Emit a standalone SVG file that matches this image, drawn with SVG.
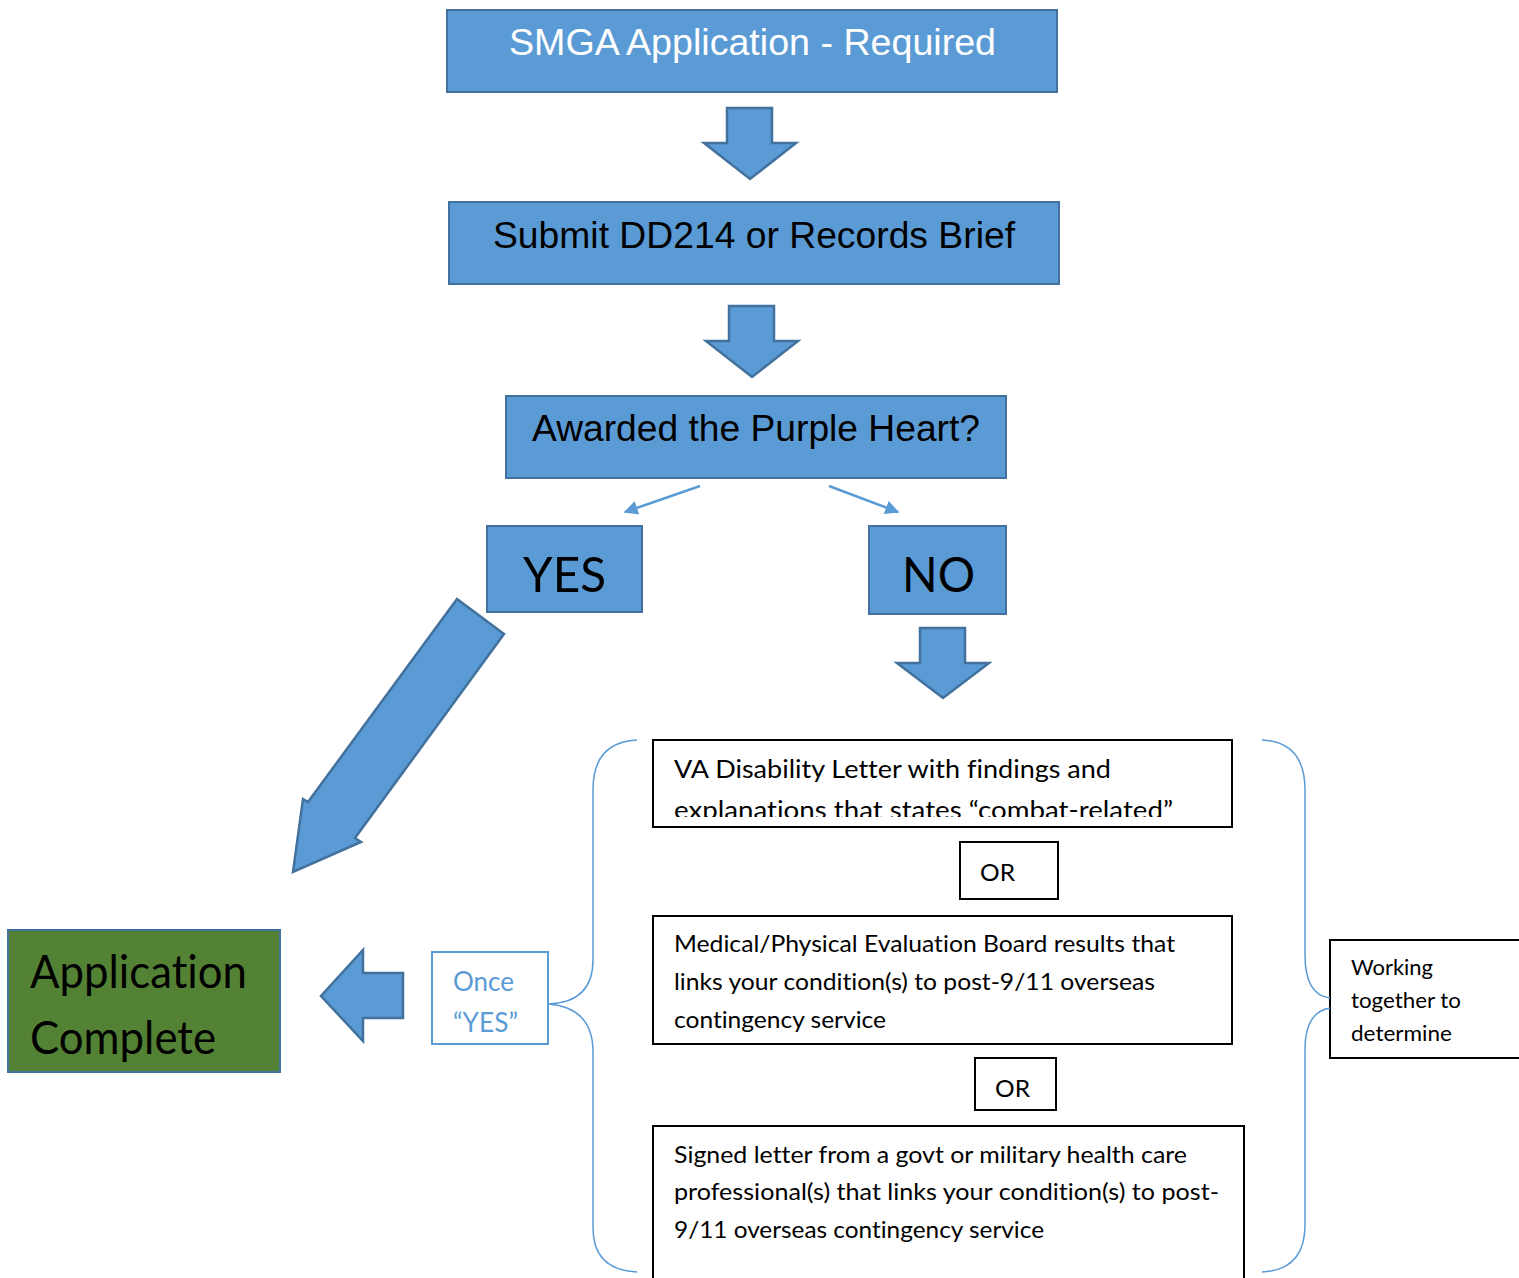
<svg xmlns="http://www.w3.org/2000/svg" width="1519" height="1278" viewBox="0 0 1519 1278">
<style>
.bx{fill:#5B9BD5;stroke:#41719C;stroke-width:2}
.ar{fill:#5B9BD5;stroke:#41719C;stroke-width:2.5;stroke-linejoin:miter}
.wb{fill:#fff;stroke:#000;stroke-width:2}
.ar1{font-family:"Liberation Sans",Arial,sans-serif;font-size:37px}
.cal{font-family:Lato,"Open Sans",sans-serif;fill:#000;font-variant-ligatures:none;font-feature-settings:"liga" 0,"clig" 0}
.brace{fill:none;stroke:#5B9BD5;stroke-width:1.5}
.thin{stroke:#5B9BD5;stroke-width:2.5;fill:none}
</style>
<defs>
<marker id="ah2" viewBox="0 0 10 10" refX="9" refY="5" markerWidth="18" markerHeight="14" orient="auto" markerUnits="userSpaceOnUse">
<path d="M0,0 L10,5 L0,10 z" fill="#5B9BD5"/>
</marker>
<clipPath id="vaclip"><rect x="653" y="740" width="580" height="77"/></clipPath>
</defs>

<g id="smga">
<rect class="bx" x="447" y="10" width="610" height="82"/>
<text class="ar1" x="509" y="55" fill="#fff" textLength="487" lengthAdjust="spacingAndGlyphs">SMGA Application - Required</text>
</g>
<g id="dd214">
<rect class="bx" x="449" y="202" width="610" height="82"/>
<text class="ar1" x="493" y="248" fill="#000" textLength="522" lengthAdjust="spacingAndGlyphs">Submit DD214 or Records Brief</text>
</g>
<g id="purple">
<rect class="bx" x="506" y="396" width="500" height="82"/>
<text class="ar1" x="532" y="441" fill="#000" textLength="448" lengthAdjust="spacingAndGlyphs">Awarded the Purple Heart?</text>
</g>
<g id="yes">
<rect class="bx" x="487" y="526" width="155" height="86"/>
<text class="cal" x="523" y="592" font-size="49" textLength="83" lengthAdjust="spacingAndGlyphs">YES</text>
</g>
<g id="no">
<rect class="bx" x="869" y="526" width="137" height="88"/>
<text class="cal" x="902" y="592" font-size="49" textLength="73" lengthAdjust="spacingAndGlyphs">NO</text>
</g>
<g id="complete">
<rect x="8" y="930" width="272" height="142" fill="#548235" stroke="#41719C" stroke-width="2"/>
<text class="cal" x="30" y="988" font-size="46" textLength="217" lengthAdjust="spacingAndGlyphs">Application</text>
<text class="cal" x="30" y="1054" font-size="46" textLength="186" lengthAdjust="spacingAndGlyphs">Complete</text>
</g>
<g id="once">
<rect x="432" y="952" width="116" height="92" fill="#fff" stroke="#5B9BD5" stroke-width="2"/>
<text class="cal" x="453" y="991" font-size="26" style="fill:#5B9BD5" textLength="61" lengthAdjust="spacingAndGlyphs">Once</text>
<text class="cal" x="453" y="1032" font-size="26" style="fill:#5B9BD5" textLength="65" lengthAdjust="spacingAndGlyphs">“YES”</text>
</g>
<g id="va">
<rect class="wb" x="653" y="740" width="579" height="87"/>
<text class="cal" x="674" y="778" font-size="25" textLength="437" lengthAdjust="spacingAndGlyphs">VA Disability Letter with findings and</text>
<text class="cal" x="674" y="819" font-size="25" textLength="499" lengthAdjust="spacingAndGlyphs" clip-path="url(#vaclip)">explanations that states “combat-related”</text>
</g>
<g id="or1">
<rect class="wb" x="960" y="842" width="98" height="57"/>
<text class="cal" x="980" y="881" font-size="24" textLength="35" lengthAdjust="spacingAndGlyphs">OR</text>
</g>
<g id="medical">
<rect class="wb" x="653" y="916" width="579" height="128"/>
<text class="cal" x="674" y="952" font-size="24" textLength="501" lengthAdjust="spacingAndGlyphs">Medical/Physical Evaluation Board results that</text>
<text class="cal" x="674" y="990" font-size="24" textLength="481" lengthAdjust="spacingAndGlyphs">links your condition(s) to post-9/11 overseas</text>
<text class="cal" x="674" y="1028" font-size="24" textLength="212" lengthAdjust="spacingAndGlyphs">contingency service</text>
</g>
<g id="or2">
<rect class="wb" x="975" y="1058" width="81" height="52"/>
<text class="cal" x="995" y="1097" font-size="24" textLength="35" lengthAdjust="spacingAndGlyphs">OR</text>
</g>
<g id="signed">
<rect class="wb" x="653" y="1126" width="591" height="160"/>
<text class="cal" x="674" y="1163" font-size="24" textLength="513" lengthAdjust="spacingAndGlyphs">Signed letter from a govt or military health care</text>
<text class="cal" x="674" y="1200" font-size="24" textLength="545" lengthAdjust="spacingAndGlyphs">professional(s) that links your condition(s) to post-</text>
<text class="cal" x="674" y="1238" font-size="24" textLength="370" lengthAdjust="spacingAndGlyphs">9/11 overseas contingency service</text>
</g>
<g id="working">
<rect class="wb" x="1330" y="940" width="200" height="118"/>
<text class="cal" x="1351" y="975" font-size="21" textLength="82" lengthAdjust="spacingAndGlyphs">Working</text>
<text class="cal" x="1351" y="1008" font-size="21" textLength="110" lengthAdjust="spacingAndGlyphs">together to</text>
<text class="cal" x="1351" y="1041" font-size="21" textLength="101" lengthAdjust="spacingAndGlyphs">determine</text>
</g>

<g id="connectors">
<polygon class="ar" points="727,108 772,108 772,143 796,143 750,179 704,143 727,143"/>
<polygon class="ar" points="729,306 774,306 774,341 798,341 752,377 706,341 729,341"/>
<polygon class="ar" points="920,628 965,628 965,663 989,663 943,698 897,663 920,663"/>
<polygon class="ar" points="457,599 504,634 355,838 361,842 293,872 303,799 308,802"/>
<polygon class="ar" points="403,973 403,1018 363,1018 363,1041 321,996 363,950 363,973"/>
<line class="thin" x1="700" y1="486" x2="625" y2="512" marker-end="url(#ah2)"/>
<line class="thin" x1="829" y1="486" x2="898" y2="512" marker-end="url(#ah2)"/>
<path class="brace" d="M637,740 Q593,742 593,790 L593,960 Q593,1002 549,1004 Q593,1008 593,1052 L593,1228 Q593,1270 637,1272"/>
<path class="brace" d="M1262,740 Q1305,742 1305,790 L1305,955 Q1305,995 1330,998 M1330,1008 Q1305,1012 1305,1050 L1305,1225 Q1305,1270 1262,1272"/>
</g>
</svg>
